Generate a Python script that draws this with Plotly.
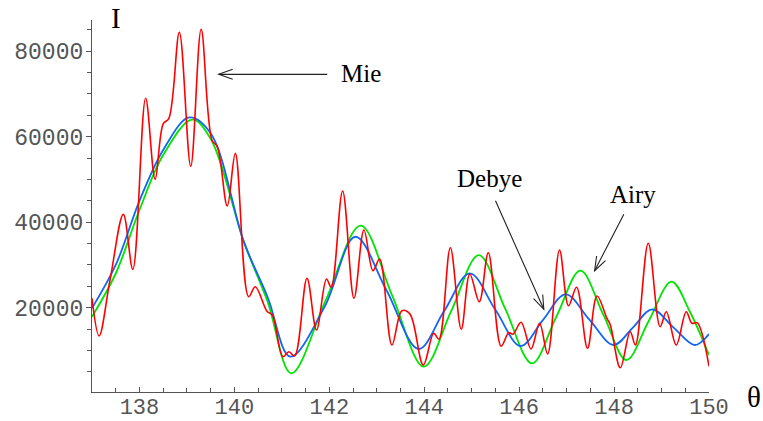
import math
import plotly.graph_objects as go

# ---- data ----
mie_theta = [137.0, 137.15, 137.38, 137.66, 137.86, 138.13, 138.33, 138.5, 138.62, 138.84,
             139.08, 139.3, 139.53, 139.64, 139.85, 140.02, 140.3, 140.44, 140.69, 140.8,
             141.02, 141.15, 141.27, 141.53, 141.73, 141.94, 142.04, 142.28, 142.52, 142.73,
             142.92, 143.06, 143.32, 143.53, 143.7, 143.98, 144.2, 144.31, 144.55, 144.78,
             144.96, 145.16, 145.35, 145.62, 145.78, 145.87, 146.04, 146.25, 146.43, 146.6,
             146.85, 147.04, 147.21, 147.44, 147.64, 147.85, 147.92, 148.13, 148.34, 148.45,
             148.72, 148.97, 149.1, 149.31, 149.52, 149.64, 149.75, 150.0]
mie_I = [22200, 13380, 26500, 41840, 28980, 68980, 50030, 63000, 64300, 84410,
         53100, 85120, 59100, 57700, 43790, 56110, 22570, 24910, 19100, 18300,
         8540, 9710, 8700, 26870, 14780, 26710, 24770, 47290, 22200, 38170,
         28650, 31390, 11270, 19300, 18500, 6600, 14010, 12610, 34040, 14950,
         27880, 21400, 32860, 11000, 14150, 13800, 16580, 10340, 16350, 9170,
         33490, 20470, 24770, 10500, 22730, 17500, 16000, 5960, 14390, 11270,
         35060, 15550, 19060, 11270, 19060, 16350, 16490, 6300]

airy_theta = [137.0, 137.5, 138.0, 138.5, 139.11, 139.5, 140.2, 140.7, 141.2, 141.93,
              142.66, 143.33, 143.99, 144.57, 145.15, 145.71, 146.27, 146.78, 147.29, 147.78,
              148.26, 148.73, 149.21, 149.6, 150.0]
airy_I = [17900, 28000, 42850, 55700, 64000, 59500, 35400, 21400, 4650, 21900,
          39180, 22700, 6200, 19260, 32320, 19650, 6990, 17800, 28660, 18200,
          7770, 16900, 26080, 19000, 8930]

debye_theta = [137.0, 137.5, 138.0, 138.5, 139.05, 139.5, 140.2, 140.7, 141.18, 141.9,
               142.55, 143.2, 143.88, 144.42, 144.96, 145.5, 146.03, 146.5, 146.98, 147.48,
               147.99, 148.4, 148.8, 149.25, 149.7, 150.0]
debye_I = [19900, 30000, 45000, 56900, 64500, 60800, 35400, 22500, 8540, 20200,
           36600, 24200, 10340, 19200, 28040, 19500, 11040, 17100, 23130, 17200,
           11270, 15400, 19620, 15400, 11270, 13850]

x_range = [137, 150]
y_range = [280, 87300]

RED = "#ff0000"
GREEN = "#00e400"
BLUE = "#1466f0"
AX = "#555555"
SERIF = "Liberation Serif"

fig = go.Figure()
fig.add_trace(go.Scatter(x=airy_theta, y=airy_I, mode="lines", name="Airy",
                         line=dict(color=GREEN, width=1.8, shape="spline")))
fig.add_trace(go.Scatter(x=debye_theta, y=debye_I, mode="lines", name="Debye",
                         line=dict(color=BLUE, width=1.8, shape="spline")))
fig.add_trace(go.Scatter(x=mie_theta, y=mie_I, mode="lines", name="Mie",
                         line=dict(color=RED, width=1.6, shape="spline")))

fig.update_layout(
    width=763, height=421,
    margin=dict(l=92, r=54, t=20, b=29, autoexpand=False),
    plot_bgcolor="white", paper_bgcolor="white",
    showlegend=False,
)
fig.update_xaxes(
    range=x_range, showgrid=False, zeroline=False, automargin=False,
    showline=True, linecolor=AX, linewidth=1.3,
    tickmode="linear", tick0=138, dtick=2,
    ticks="inside", ticklen=5, tickwidth=1.2, tickcolor=AX,
    tickfont=dict(family="Liberation Mono", size=22, color="#555555"), ticklabelstandoff=-6,
    minor=dict(tick0=137, dtick=0.5, ticks="inside", ticklen=4, tickwidth=1, tickcolor=AX, showgrid=False),
)
fig.update_yaxes(
    range=y_range, showgrid=False, zeroline=False, automargin=False,
    showline=True, linecolor=AX, linewidth=1.3,
    tickmode="linear", tick0=0, dtick=20000, tickformat="d",
    ticks="outside", ticklen=5, tickwidth=1.2, tickcolor=AX,
    tickfont=dict(family="Liberation Mono", size=23, color="#555555"), ticklabelstandoff=-2,
    minor=dict(tick0=0, dtick=5000, ticks="outside", ticklen=4, tickwidth=1, tickcolor=AX, showgrid=False),
)


def arrow(x, y, ax, ay, head_len=14, head_half=5):
    """Arrow whose tip is at data (x, y); tail offset (ax, ay) in screen pixels."""
    fig.add_annotation(x=x, y=y, xref="x", yref="y", ax=ax, ay=ay, axref="pixel", ayref="pixel",
                       text="", showarrow=True, arrowhead=0, arrowwidth=1.1,
                       arrowcolor="#222222", standoff=0)
    L = math.hypot(ax, ay)
    dx, dy = -ax / L, -ay / L          # direction tail -> tip (screen, y down)
    nx, ny = -dy, dx
    pts = []
    for s in (1, -1):
        px = -head_len * dx + s * head_half * nx
        py = -head_len * dy + s * head_half * ny
        pts.append((px, -py))          # shape pixel coords use y up
    path = f"M{pts[0][0]:.2f},{pts[0][1]:.2f} L0,0 L{pts[1][0]:.2f},{pts[1][1]:.2f}"
    fig.add_shape(type="path", path=path, xref="x", yref="y", xsizemode="pixel",
                  ysizemode="pixel", xanchor=x, yanchor=y,
                  line=dict(color="#222222", width=1.1))


# Mie label and arrow
fig.add_annotation(x=142.66, y=74830, xref="x", yref="y", text="Mie", showarrow=False,
                   font=dict(family=SERIF, size=25, color="black"))
arrow(139.67, 74590, 110, 0)
# Debye
fig.add_annotation(x=145.38, y=50300, xref="x", yref="y", text="Debye", showarrow=False,
                   font=dict(family=SERIF, size=25, color="black"))
arrow(146.52, 19620, -49, -110)
# Airy
fig.add_annotation(x=148.39, y=46400, xref="x", yref="y", text="Airy", showarrow=False,
                   font=dict(family=SERIF, size=25, color="black"))
arrow(147.59, 28650, 30, -58)

# axis labels
fig.add_annotation(x=0.039, y=1.005, xref="paper", yref="paper", text="I", showarrow=False,
                   font=dict(family=SERIF, size=29, color="black"), xanchor="center", yanchor="middle")
fig.add_annotation(x=1.073, y=-0.013, xref="paper", yref="paper", text="θ", showarrow=False,
                   font=dict(family=SERIF, size=29, color="black"), xanchor="center", yanchor="middle")

fig.write_html("out.html")
